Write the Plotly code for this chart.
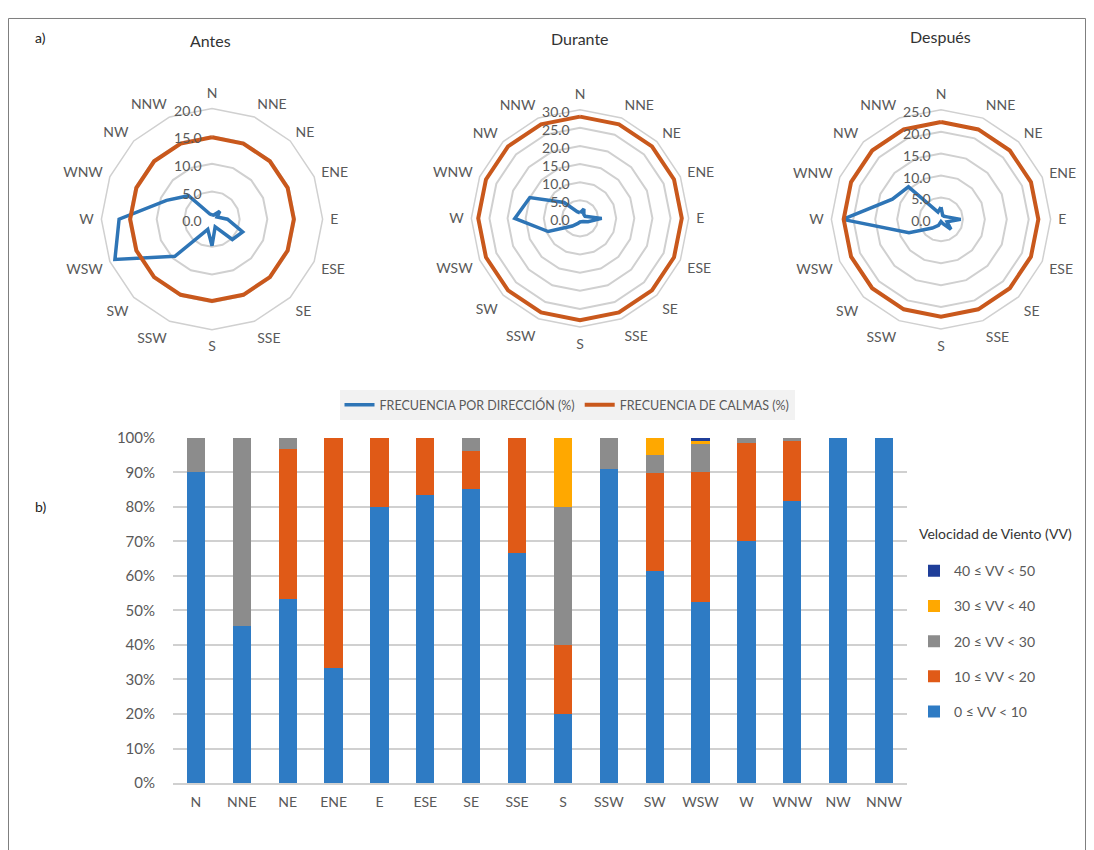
import plotly.graph_objects as go

# ---------------- data ----------------
directions = ["N", "NNE", "NE", "ENE", "E", "ESE", "SE", "SSE",
              "S", "SSW", "SW", "WSW", "W", "WNW", "NW", "NNW"]

freq_antes = [0.8, 0.8, 2.0, 1.0, 2.8, 6.0, 5.2, 1.5, 4.8, 2.0, 9.5, 19.0, 16.8, 8.9, 6.0, 1.0]
calm_antes = [14.8, 14.8, 14.8, 14.8, 14.8, 14.8, 14.8, 14.8, 14.8, 14.8, 14.8, 14.8, 14.8, 14.8, 14.8, 14.8]

freq_durante = [1.5, 2.8, 1.5, 1.5, 6.0, 2.4, 1.2, 1.0, 1.0, 1.5, 3.0, 9.5, 18.0, 15.0, 6.2, 2.0]
calm_durante = [28.1, 28.1, 28.1, 28.1, 28.1, 28.1, 28.1, 28.1, 28.1, 28.1, 28.1, 28.1, 28.1, 28.1, 28.1, 28.1]

freq_despues = [2.8, 1.0, 1.0, 1.5, 4.5, 1.5, 3.2, 1.0, 0.5, 1.5, 2.8, 7.9, 22.4, 12.0, 10.5, 1.8]
calm_despues = [22.2, 22.2, 22.2, 22.2, 22.2, 22.2, 22.2, 22.2, 22.2, 22.2, 22.2, 22.2, 22.2, 22.2, 22.2, 22.2]

radar_titles = ["Antes", "Durante", "Después"]
radar_max = [20, 30, 25]

speed_classes = ["0 ≤ VV < 10", "10 ≤ VV < 20", "20 ≤ VV < 30", "30 ≤ VV < 40", "40 ≤ VV < 50"]
vv_0_10 = [90.0, 45.5, 53.3, 33.3, 80.0, 83.3, 85.2, 66.7, 20.0, 90.9, 61.5, 52.4, 70.2, 81.8, 100.0, 100.0]
vv_10_20 = [0.0, 0.0, 43.3, 66.7, 20.0, 16.7, 11.1, 33.3, 20.0, 0.0, 28.3, 37.7, 28.4, 17.4, 0.0, 0.0]
vv_20_30 = [10.0, 54.5, 3.4, 0.0, 0.0, 0.0, 3.7, 0.0, 40.0, 9.1, 5.1, 8.0, 1.4, 0.8, 0.0, 0.0]
vv_30_40 = [0.0, 0.0, 0.0, 0.0, 0.0, 0.0, 0.0, 0.0, 20.0, 0.0, 5.1, 0.9, 0.0, 0.0, 0.0, 0.0]
vv_40_50 = [0.0, 0.0, 0.0, 0.0, 0.0, 0.0, 0.0, 0.0, 0.0, 0.0, 0.0, 1.0, 0.0, 0.0, 0.0, 0.0]

# ---------------- styling ----------------
W, H = 1078, 850
OFF_X = 8          # page offset of the figure (horizontal)
OFF_Y, SY = 17.3, 0.978   # observed vertical placement/scale of the photographed page
FONT = "Lato"
BLUE = "#2E75B6"
ORANGE = "#C9581C"
GRID = "#D0D0D0"
TXT = "#595959"

bar_colors = ["#2E7BC4", "#E05A17", "#8C8C8C", "#FFA800", "#1F3E99"]


def fx(tx):
    return tx - OFF_X


def fy(ty):
    return (ty - OFF_Y) / SY


def px(tx):
    return fx(tx) / W


def py(ty):
    return 1 - fy(ty) / H


fig = go.Figure()

radar_freqs = [freq_antes, freq_durante, freq_despues]
radar_calms = [calm_antes, calm_durante, calm_despues]
centers = [(212.0, 218.3, 113), (580.0, 217.5, 111), (941.0, 218.5, 112)]

theta_closed = directions + directions[:1]
for i in range(3):
    pid = "polar" if i == 0 else f"polar{i+1}"
    fr = radar_freqs[i]
    ca = radar_calms[i]
    fig.add_trace(go.Scatterpolar(
        r=fr + fr[:1], theta=theta_closed, mode="lines",
        line=dict(color=BLUE, width=3.5), name="FRECUENCIA POR DIRECCIÓN (%)",
        subplot=pid, showlegend=(i == 0), legend="legend"))
    fig.add_trace(go.Scatterpolar(
        r=ca + ca[:1], theta=theta_closed, mode="lines",
        line=dict(color=ORANGE, width=4), name="FRECUENCIA DE CALMAS (%)",
        subplot=pid, showlegend=(i == 0), legend="legend"))
    cx, cy, R = centers[i]
    cfx, cfy = fx(cx), fy(cy)
    fig.update_layout(**{pid: dict(
        domain=dict(x=[(cfx - R) / W, (cfx + R) / W],
                    y=[1 - (cfy + R) / H, 1 - (cfy - R) / H]),
        gridshape="linear",
        bgcolor="white",
        angularaxis=dict(rotation=90, direction="clockwise", showgrid=False,
                         showline=True, linecolor=GRID, linewidth=1.5,
                         ticks="outside", ticklen=4, tickcolor="rgba(0,0,0,0)",
                         tickfont=dict(family=FONT, size=14, color=TXT),
                         categoryorder="array", categoryarray=directions),
        radialaxis=dict(range=[0, radar_max[i]], dtick=5, tickformat=".1f",
                        angle=90, showline=False, ticks="",
                        side="counterclockwise",
                        gridcolor=GRID, gridwidth=1.5,
                        tickfont=dict(family=FONT, size=14, color=TXT)),
    )})

for k, (name, vals) in enumerate(zip(speed_classes, [vv_0_10, vv_10_20, vv_20_30, vv_30_40, vv_40_50])):
    fig.add_trace(go.Bar(
        x=directions, y=vals, name=name, marker=dict(color=bar_colors[k], line=dict(width=0)),
        xaxis="x", yaxis="y", legend="legend2", legendgroup=f"g{k}", legendrank=10 - k))

x0, x1 = 173, 907
y0, y1 = 781.7, 436.7
fig.update_layout(
    width=W, height=H,
    margin=dict(l=0, r=0, t=0, b=0),
    paper_bgcolor="white", plot_bgcolor="white",
    font=dict(family=FONT, color=TXT),
    barmode="stack", bargap=0.6,
    showlegend=True,
    xaxis=dict(domain=[px(x0), px(x1)], anchor="y", showgrid=False,
               showline=True, linecolor=GRID, linewidth=1.5,
               ticks="outside", ticklen=5, tickcolor="rgba(0,0,0,0)",
               tickfont=dict(family=FONT, size=14, color=TXT),
               categoryorder="array", categoryarray=directions),
    yaxis=dict(domain=[py(y0), py(y1)], anchor="x", range=[0, 100],
               dtick=10, ticksuffix="%", showgrid=True, gridcolor=GRID, gridwidth=1.5,
               zeroline=False, showline=False,
               ticks="outside", ticklen=14, tickcolor="rgba(0,0,0,0)",
               tickfont=dict(family=FONT, size=15, color=TXT)),
    legend=dict(orientation="h", x=px(567), xanchor="center", y=py(404), yanchor="middle",
                bgcolor="#F2F2F2", font=dict(family=FONT, size=12.5, color=TXT),
                itemwidth=30, borderwidth=0),
    legend2=dict(x=px(914), xanchor="left", y=py(554), yanchor="top",
                 font=dict(family=FONT, size=14, color=TXT), itemwidth=30,
                 traceorder="grouped", tracegroupgap=14, bgcolor="rgba(0,0,0,0)"),
)

ann = [("a)", 40, 37, 14, "#222222", "center"), ("b)", 40, 505, 14, "#222222", "center"),
       (radar_titles[0], 210, 40, 16, "#333333", "center"),
       (radar_titles[1], 580, 38, 16, "#333333", "center"),
       (radar_titles[2], 940, 36, 16, "#333333", "center"),
       ("Velocidad de Viento (VV)", 917, 532, 14, "#333333", "left")]
for text, ax, ay, fs, col, anc in ann:
    fig.add_annotation(text=text, x=px(ax), y=py(ay), xref="paper", yref="paper",
                       showarrow=False, xanchor=anc, yanchor="middle",
                       font=dict(family=FONT, size=fs, color=col))

# frame around the whole figure
fig.add_shape(type="line", xref="paper", yref="paper", x0=0.5 / W, x1=1077.5 / W,
              y0=1 - 0.5 / H, y1=1 - 0.5 / H, line=dict(color="#7F7F7F", width=1))
fig.add_shape(type="line", xref="paper", yref="paper", x0=0.5 / W, x1=0.5 / W,
              y0=0, y1=1 - 0.5 / H, line=dict(color="#7F7F7F", width=1))
fig.add_shape(type="line", xref="paper", yref="paper", x0=1077.5 / W, x1=1077.5 / W,
              y0=0, y1=1 - 0.5 / H, line=dict(color="#7F7F7F", width=1))

fig.write_html("out.html")
